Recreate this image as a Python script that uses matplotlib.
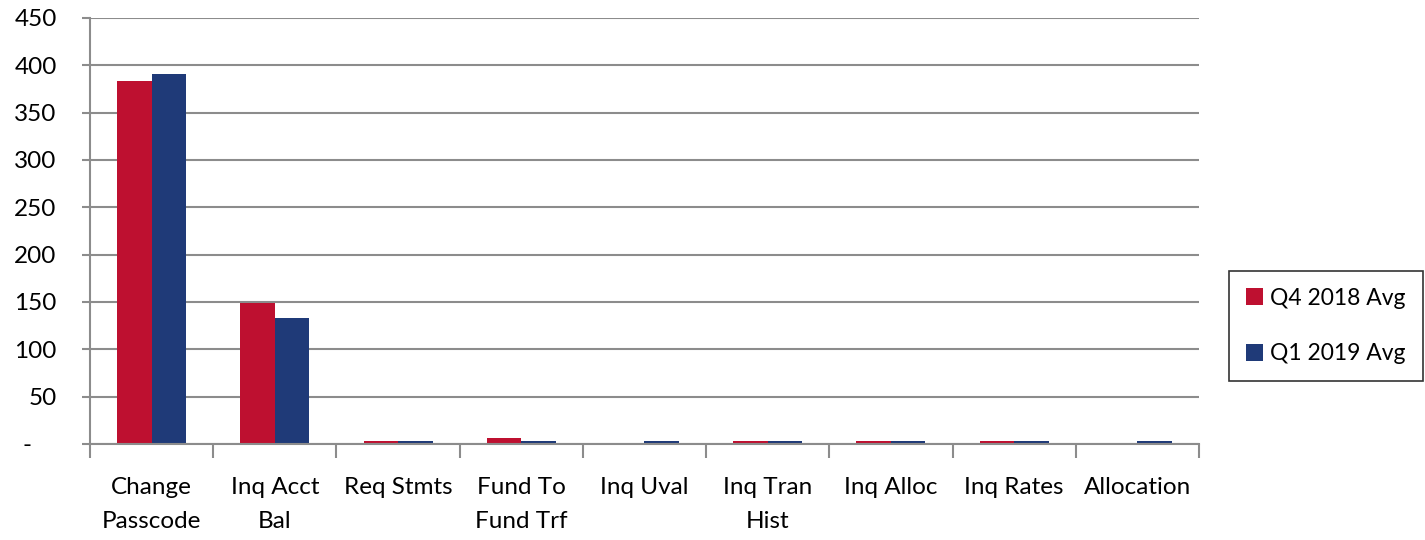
import matplotlib
matplotlib.use("Agg")
import matplotlib.pyplot as plt
import numpy as np
from matplotlib.ticker import FixedLocator, FuncFormatter

categories = ["Change\nPasscode", "Inq Acct\nBal", "Req Stmts", "Fund To\nFund Trf",
              "Inq Uval", "Inq Tran\nHist", "Inq Alloc", "Inq Rates", "Allocation"]
q4_2018 = [383, 149, 3, 6, 0, 3, 3, 3, 0]
q1_2019 = [391, 133, 3, 3, 3, 3, 3, 3, 3]
series_names = ["Q4 2018 Avg", "Q1 2019 Avg"]
y_ticks = [0, 50, 100, 150, 200, 250, 300, 350, 400, 450]

plt.rcParams['font.family'] = ['Lato', 'DejaVu Sans']

fig = plt.figure(figsize=(14.25, 5.4), dpi=100)
ax = fig.add_axes([90/1425, 1-444/540, (1199-90)/1425, (444-18)/540])

x = np.arange(len(categories))
w = 0.28
red = "#BE1030"
blue = "#1F3A78"
ax.bar(x - w/2, q4_2018, w, color=red, label=series_names[0], zorder=3)
ax.bar(x + w/2, q1_2019, w, color=blue, label=series_names[1], zorder=3)

ax.set_xlim(-0.5, len(categories) - 0.5)
ax.set_ylim(0, 450)

grid_c = "#8C8C8C"
fs = 17.5
ax.set_yticks(y_ticks)
ax.yaxis.set_major_formatter(FuncFormatter(lambda v, p: "-    " if v == 0 else f"{int(v)}"))
ax.yaxis.grid(True, color=grid_c, linewidth=1.5, zorder=0)
ax.tick_params(axis='y', length=6, width=1.5, color=grid_c, labelsize=fs, pad=18)

ax.set_xticks(x)
ax.set_xticklabels(categories, fontsize=fs, linespacing=1.75)
ax.xaxis.set_minor_locator(FixedLocator(np.arange(-0.5, len(categories), 1.0)))
ax.tick_params(axis='x', which='major', length=0, pad=24)
ax.tick_params(axis='x', which='minor', length=10, width=1.5, color=grid_c)

for s in ["top", "right"]:
    ax.spines[s].set_visible(False)
for s in ["left", "bottom"]:
    ax.spines[s].set_color(grid_c)
    ax.spines[s].set_linewidth(1.5)
    ax.spines[s].set_zorder(4)

leg = fig.legend(loc="center left", bbox_to_anchor=(1229/1425, 1-326/540),
                 prop={"size": 16.5}, frameon=True, fancybox=False, edgecolor="black",
                 handlelength=0.75, handleheight=0.75, handletextpad=0.3,
                 labelspacing=1.5, borderpad=0.75, borderaxespad=0)
leg.get_frame().set_linewidth(1.2)

fig.savefig("out.png", dpi=100)
